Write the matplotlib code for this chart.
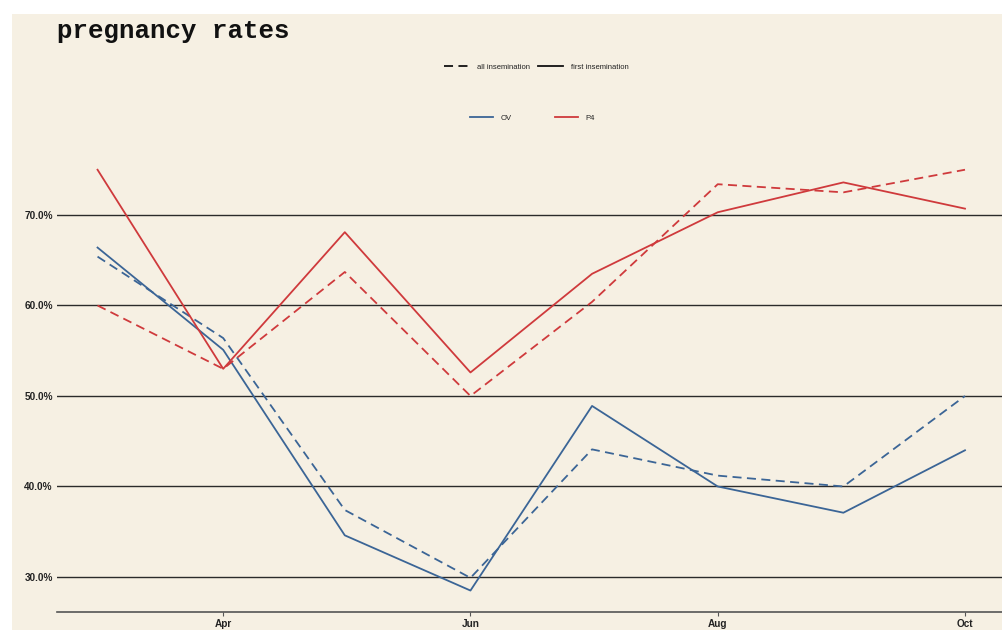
import matplotlib
matplotlib.use("Agg")
import matplotlib.pyplot as plt
import matplotlib.dates as mdates
from matplotlib.lines import Line2D
from matplotlib.patches import Rectangle
import datetime as dt

# ---- data ----
months = ["2021-03-01", "2021-04-01", "2021-05-01", "2021-06-01",
          "2021-07-01", "2021-08-01", "2021-09-01", "2021-10-01"]
ov_first = [0.664, 0.551, 0.346, 0.285, 0.489, 0.400, 0.371, 0.440]
ov_all = [0.654, 0.564, 0.374, 0.299, 0.441, 0.412, 0.400, 0.500]
p4_first = [0.750, 0.530, 0.681, 0.526, 0.635, 0.703, 0.736, 0.707]
p4_all = [0.600, 0.530, 0.637, 0.500, 0.604, 0.734, 0.725, 0.750]
yticks = [0.3, 0.4, 0.5, 0.6, 0.7]
xtick_dates = ["2021-04-01", "2021-06-01", "2021-08-01", "2021-10-01"]

dates = [dt.datetime.strptime(m, "%Y-%m-%d") for m in months]
xt = [dt.datetime.strptime(m, "%Y-%m-%d") for m in xtick_dates]

W, H = 1003, 630
bg = "#f6f0e3"
blue = "#3b6596"
red = "#cf3a3c"
dash = (0, (5, 3))

fig = plt.figure(figsize=(W / 100, H / 100), dpi=100, facecolor="white")
fig.patches.append(Rectangle((12 / W, 0), 1, 1 - 14 / H, transform=fig.transFigure,
                             facecolor=bg, edgecolor="none", zorder=-10))

ax = fig.add_axes([57 / W, 18 / H, (W - 57) / W, (612 - 130) / H])
ax.set_facecolor(bg)
ax.patch.set_alpha(0)

lw = 1.3
ax.plot(dates, ov_all, color=blue, lw=lw, linestyle=dash)
ax.plot(dates, ov_first, color=blue, lw=lw)
ax.plot(dates, p4_all, color=red, lw=lw, linestyle=dash)
ax.plot(dates, p4_first, color=red, lw=lw)

ax.set_ylim(0.2613, 0.7939)
ax.set_xlim(dt.datetime(2021, 2, 19), dt.datetime(2021, 10, 10, 9))

ax.set_yticks(yticks)
ax.set_yticklabels([f"{v*100:.1f}%" for v in yticks])
ax.yaxis.grid(True, color="#2b2b2b", lw=1.0)
ax.set_axisbelow(True)

ax.set_xticks(xt)
ax.xaxis.set_major_formatter(mdates.DateFormatter("%b"))

for s in ["top", "right", "left"]:
    ax.spines[s].set_visible(False)
ax.spines["bottom"].set_color("#555555")
ax.spines["bottom"].set_linewidth(1.2)

ax.tick_params(axis="y", length=0, pad=3, labelsize=7.2, labelcolor="#222222")
ax.tick_params(axis="x", length=3, width=0.8, color="#555555", pad=2,
               labelsize=7.2, labelcolor="#222222")
for lab in ax.get_xticklabels() + ax.get_yticklabels():
    lab.set_fontweight("bold")
    lab.set_family("Liberation Sans")

fig.text(57 / W, 1 - 31 / H, "pregnancy rates", family="Liberation Mono",
         fontweight="bold", fontsize=18.5, va="center", ha="left", color="#111111")

h1 = [Line2D([], [], color="#111111", lw=1.3, linestyle=dash),
      Line2D([], [], color="#111111", lw=1.3)]
leg1 = fig.legend(h1, ["all insemination", "first insemination"], loc="center",
                  bbox_to_anchor=(536.5 / W, 1 - 67 / H), ncol=2, frameon=False,
                  prop={"family": "Liberation Sans", "size": 5.5},
                  handlelength=3.3, handletextpad=1.0, columnspacing=1.0)
h2 = [Line2D([], [], color=blue, lw=1.3), Line2D([], [], color=red, lw=1.3)]
leg2 = fig.legend(h2, ["OV", "P4"], loc="center",
                  bbox_to_anchor=(532.5 / W, 1 - 118 / H), ncol=2, frameon=False,
                  prop={"family": "Liberation Sans", "size": 5.5},
                  handlelength=3.0, handletextpad=1.0, columnspacing=5.6)
for t in leg1.get_texts() + leg2.get_texts():
    t.set_color("#222222")

fig.savefig("out.png", dpi=100, facecolor="white")
